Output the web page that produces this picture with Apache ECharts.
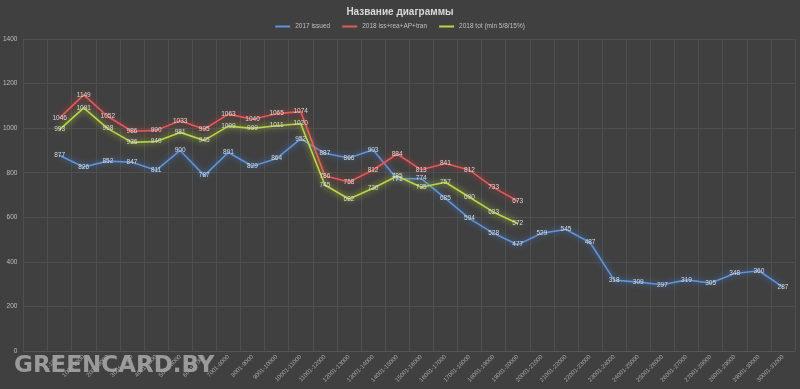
<!DOCTYPE html>
<html>
<head>
<meta charset="utf-8">
<script src="https://cdn.jsdelivr.net/npm/echarts@6/dist/echarts.min.js"></script>
<style>
html,body{margin:0;padding:0;background:#404040;}
#c{width:800px;height:389px;}
</style>
</head>
<body>
<div id="c"></div>
<script>
var categories = [""];
for (var i = 1; i <= 31; i++) { categories.push(((i - 1) * 1000 + 1) + "-" + (i * 1000)); }

var issued2017 = [null, 877, 826, 852, 847, 811, 900, 787, 891, 829, 864, 952, 887, 866, 903, 771, 774, 685, 594, 528, 477, 529, 545, 487, 318, 309, 297, 319, 305, 348, 360, 287];
var issRea2018 = [null, 1046, 1149, 1052, 986, 990, 1033, 995, 1063, 1040, 1065, 1074, 786, 758, 812, 884, 813, 841, 812, 733, 673];
var tot2018 = [null, 993, 1091, 998, 936, 940, 981, 945, 1009, 999, 1011, 1020, 745, 682, 730, 785, 735, 757, 690, 623, 572];

var seriesNames = ["2017 issued", "2018 iss+rea+AP+tran", "2018 tot (min 5/8/15%)"];
var yTicks = [0, 200, 400, 600, 800, 1000, 1200, 1400];

function mk(name, data, color, glow) {
  return {
    name: name, type: 'line', data: data,
    symbol: 'circle', symbolSize: 1, showSymbol: true,
    itemStyle: { color: color },
    lineStyle: { color: color, width: 1.6, shadowBlur: 6, shadowColor: glow },
    label: { show: true, position: 'inside', color: '#d9d9d9', fontSize: 6.5, fontFamily: 'Liberation Sans, Arial', textBorderWidth: 0 },
    emphasis: { disabled: true },
    animation: false
  };
}

var chart = echarts.init(document.getElementById('c'), null, { renderer: 'canvas' });
chart.setOption({
  backgroundColor: '#404040',
  animation: false,
  title: {
    text: 'Название диаграммы', left: 'center', top: 2,
    textStyle: { color: '#d9d9d9', fontSize: 10, fontWeight: 'bold', fontFamily: 'Liberation Sans, Arial' }
  },
  legend: {
    top: 18, left: 'center', itemWidth: 15, itemHeight: 2, itemGap: 12,
    icon: 'rect',
    textStyle: { color: '#bfbfbf', fontSize: 6.5, fontFamily: 'Liberation Sans, Arial' },
    data: seriesNames
  },
  grid: { left: 21, right: 5, top: 39, bottom: 38 },
  xAxis: {
    type: 'category', data: categories, boundaryGap: true,
    axisLine: { show: true, lineStyle: { color: '#555555' } },
    axisTick: { show: false },
    splitLine: { show: true, interval: 0, lineStyle: { color: '#4f4f4f', width: 1 } },
    axisLabel: { interval: 0, rotate: 45, color: '#a6a6a6', fontSize: 6, margin: 5, fontFamily: 'Liberation Sans, Arial' }
  },
  yAxis: {
    type: 'value', min: yTicks[0], max: yTicks[yTicks.length - 1], interval: 200,
    axisLine: { show: false }, axisTick: { show: false },
    splitLine: { show: true, lineStyle: { color: '#4f4f4f', width: 1 } },
    axisLabel: { color: '#bfbfbf', fontSize: 6.5, margin: 6, fontFamily: 'Liberation Sans, Arial', formatter: function (v) { return String(v); } }
  },
  series: [
    mk(seriesNames[0], issued2017, '#5f93d8', 'rgba(70,130,220,0.9)'),
    mk(seriesNames[1], issRea2018, '#e05a5a', 'rgba(220,60,60,0.9)'),
    mk(seriesNames[2], tot2018, '#b8d448', 'rgba(200,230,40,0.9)')
  ],
  graphic: [{
    type: 'text', left: 14, top: 355, silent: true,
    style: {
      text: 'GREENCARD.BY', fill: '#9a9a9a', fontSize: 23, fontWeight: 'bold',
      fontFamily: 'DejaVu Sans, Liberation Sans, Arial',
      shadowBlur: 3, shadowColor: 'rgba(0,0,0,0.7)', shadowOffsetX: 1, shadowOffsetY: 1
    }
  }]
});
</script>
</body>
</html>
